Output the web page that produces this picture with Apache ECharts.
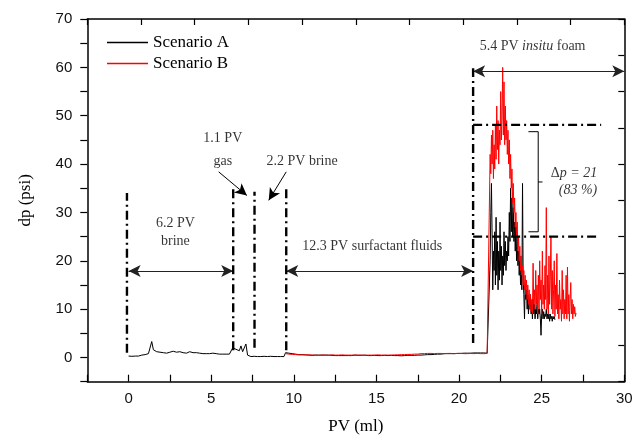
<!DOCTYPE html>
<html><head><meta charset="utf-8">
<script src="https://cdn.jsdelivr.net/npm/echarts@6/dist/echarts.min.js"></script>
<style>html,body{margin:0;padding:0;background:#fff}#c{width:642px;height:435px}</style>
</head><body><div id="c"></div>
<script>
// ---- data ----
const seriesNames = ['Scenario A', 'Scenario B'];
const xTickLabels = ['0', '5', '10', '15', '20', '25', '30'];
const yTickLabels = ['0', '10', '20', '30', '40', '50', '60', '70'];

// Scenario A (black), low-pressure part: PV 0.0 .. 21.8, sampled every 0.1 ml
const lowStartA = 0.0, lowStepA = 0.1;
const dpLowA = [
 0.3,0.3,0.25,0.3,0.3,0.25,0.3,0.35,0.5,0.6,
 0.6,0.7,0.8,1.0,3.3,1.6,2.0,1.2,1.6,1.1,
 1.4,1.0,1.3,0.9,1.2,1.1,1.0,1.3,0.9,1.1,
 1.0,1.2,0.9,1.0,1.1,0.9,1.0,1.2,0.9,1.0,
 0.9,1.0,0.8,0.9,1.0,0.8,0.9,0.8,0.9,0.8,
 0.8,0.9,0.7,0.8,0.8,0.7,0.8,0.7,0.8,0.7,
 0.7,0.7,0.8,2.0,1.8,1.7,1.5,1.4,2.4,1.2,
 1.3,2.8,0.5,0.3,0.2,0.2,0.25,0.2,0.2,0.2,
 0.2,0.2,0.25,0.2,0.2,0.2,0.25,0.2,0.2,0.2,
 0.2,0.2,0.2,0.2,0.2,1.0,0.9,0.9,0.8,0.8,
 0.7,0.7,0.6,0.6,0.55,0.6,0.5,0.55,0.5,0.5,
 0.5,0.45,0.5,0.5,0.4,0.5,0.45,0.5,0.4,0.5,
 0.45,0.5,0.4,0.45,0.5,0.4,0.45,0.4,0.5,0.4,
 0.45,0.4,0.5,0.4,0.45,0.4,0.4,0.5,0.4,0.45,
 0.4,0.45,0.4,0.5,0.4,0.4,0.45,0.4,0.4,0.45,
 0.4,0.4,0.45,0.4,0.4,0.45,0.4,0.4,0.4,0.45,
 0.4,0.4,0.35,0.4,0.4,0.35,0.4,0.4,0.4,0.45,
 0.4,0.45,0.5,0.45,0.5,0.5,0.55,0.5,0.6,0.55,
 0.6,0.6,0.65,0.6,0.7,0.65,0.7,0.7,0.75,0.7,
 0.75,0.8,0.75,0.8,0.85,0.8,0.85,0.8,0.9,0.85,
 0.9,0.85,0.9,0.9,0.85,0.9,0.95,0.9,0.9,0.95,
 0.9,0.95,0.9,0.95,0.9,0.95,0.9,0.9,0.95
];
// Scenario A, foam part: PV 21.84 .., sampled every 0.04 ml
const foamStartA = 21.84, foamStepA = 0.04;
const dpFoamA = [
 0.9,20,30,36,25,14,22,18,26,15,
 29,17,24,14,22,16,28,18,23,15,
 21,17,26,19,24,18,22,20,25,21,
 30,24,35,26,33,25,31,24,28,22,
 27,20,25,19,22,17,21,15,19,14,
 36,16,13,8,15,12,14,10,13,9,
 12,10,13,9,11,8,12,9,11,8,
 10,9,11,8,10,9,10,8,4.6,9,
 10,8,9.5,8,9,8.5,10,8,9,8,
 9,7.5,9,8,8.5,7.5,8.5,8,8.5,7.8
];
// Scenario B (red), low-pressure part: PV 9.5 .. 21.8, every 0.1 ml
const lowStartB = 9.5, lowStepB = 0.1;
const dpLowB = [
 0.8,0.75,0.7,0.7,0.65,
 0.65,0.6,0.6,0.55,0.6,0.55,0.5,0.55,0.5,0.55,
 0.5,0.5,0.55,0.5,0.5,0.45,0.5,0.5,0.55,0.5,
 0.5,0.45,0.5,0.55,0.5,0.5,0.45,0.5,0.5,0.55,
 0.5,0.5,0.45,0.5,0.55,0.5,0.5,0.5,0.45,0.5,
 0.55,0.5,0.5,0.45,0.5,0.5,0.55,0.5,0.45,0.5,
 0.5,0.55,0.5,0.5,0.45,0.5,0.55,0.5,0.5,0.5,
 0.5,0.55,0.6,0.55,0.6,0.6,0.65,0.6,0.65,0.65,
 0.7,0.65,0.7,0.7,0.75,0.7,0.75,0.8,0.75,0.8,
 0.8,0.85,0.8,0.85,0.85,0.8,0.85,0.85,0.8,0.85,
 0.85,0.8,0.85,0.85,0.8,0.85,0.85,0.8,0.85,0.85,
 0.8,0.85,0.8,0.8,0.85,0.8,0.8,0.85,0.8,0.8,
 0.8,0.85,0.8,0.8,0.85,0.8,0.8,0.85,0.8
];
// Scenario B, foam part: PV 21.84 .., every 0.04 ml
const foamStartB = 21.84, foamStepB = 0.04;
const dpFoamB = [
 0.8,42,38,46,40,47,37,44,39,48,
 41,52,43,49,40,47,44,55,45,50,
 60,46,57,44,52,45,49,42,47,40,
 45,37,42,35,39,32,36,30,33,27,
 30,25,28,22,25,20,23,18,21,17,
 19,15,18,14,17,13,16,12,15,11,
 14,10,13,9.5,12,9,19.5,11,14,10,
 18,11,15,9,17,10,20,12,16,9,
 22,11,15,10,19,12,31,10,17,9,
 21,11,16,25,10,18,9,14,20,8.5,
 15,10,21.5,9,13,8,16,10,12,7.5,
 18,9,14,8,12,9,17,8,18.7,9,
 13,7.5,12,15.5,9,12,8,11,9,10.5,
 8.5,9.2
];

// annotation geometry (data coordinates)
const dashDotV = [[-0.1, 1, 34], [6.33, 1.5, 35.3], [7.62, 2, 34.3], [9.54, 1.5, 34.8], [20.85, 3, 59.8]];
const dashDotH = [[48.1, 20.85, 28.6], [25.0, 20.85, 28.4]];
const doubleArrows = [[0, 6.33, 17.9], [9.54, 20.85, 17.9], [20.85, 30, 59.2]];
const singleArrows = [[5.45, 38.4, 7.16, 33.5], [9.54, 38.4, 8.48, 32.5]];
const bracket = { x: 24.79, xl: 24.2, xr: 25.05, yTop: 46.7, yBot: 26.0, yMid: 36.3 };
const notes = [
 { t: '6.2 PV', p: [2.83, 27.7] }, { t: 'brine', p: [2.83, 24.1] },
 { t: '1.1 PV', p: [5.7, 45.3] }, { t: 'gas', p: [5.7, 40.6] },
 { t: '2.2 PV brine', p: [10.5, 40.6] },
 { t: '12.3 PV surfactant fluids', p: [14.75, 23.0] },
 { t: '{n|5.4 PV }{i|insitu}{n| foam}', p: [24.45, 64.3] },
 { t: '{n|Δ}{i|p = 21}', p: [26.95, 38.1] },
 { t: '{i|(83 %)}', p: [27.2, 34.6] }
];

// ---- build ----
function build(start, step, vals) { return vals.map((v, i) => [+(start + i * step).toFixed(3), v]); }
const dataA = build(lowStartA, lowStepA, dpLowA).concat(build(foamStartA, foamStepA, dpFoamA));
const dataB = build(lowStartB, lowStepB, dpLowB).concat(build(foamStartB, foamStepB, dpFoamB));

const serif = '"Liberation Serif", "Times New Roman", serif';
const sans = '"Liberation Sans", Arial, sans-serif';
const ddStyle = { color: '#000', width: 2.4, type: [9, 4, 2, 4] };

const series = [
 { name: seriesNames[0], type: 'line', data: dataA, showSymbol: false, symbol: 'none',
   lineStyle: { color: '#000', width: 1 }, itemStyle: { color: '#000' }, z: 3, animation: false },
 { name: seriesNames[1], type: 'line', data: dataB, showSymbol: false, symbol: 'none',
   lineStyle: { color: '#ff0000', width: 1 }, itemStyle: { color: '#ff0000' }, z: 4, animation: false }
];
dashDotV.forEach(d => series.push({ type: 'line', data: [[d[0], d[1]], [d[0], d[2]]], symbol: 'none',
 lineStyle: ddStyle, silent: true, animation: false, z: 5 }));
dashDotH.forEach(d => series.push({ type: 'line', data: [[d[1], d[0]], [d[2], d[0]]], symbol: 'none',
 lineStyle: ddStyle, silent: true, animation: false, z: 5 }));
series.push({ type: 'line', data: [], silent: true, animation: false,
 markLine: { silent: true, animation: false, symbol: ['arrow', 'arrow'], symbolSize: [9, 12],
   lineStyle: { color: '#222', width: 1, type: 'solid' }, label: { show: false },
   data: doubleArrows.map(a => [{ coord: [a[0], a[2]] }, { coord: [a[1], a[2]] }]) } });
series.push({ type: 'line', data: [], silent: true, animation: false,
 markLine: { silent: true, animation: false, symbol: ['none', 'arrow'], symbolSize: [9, 12],
   lineStyle: { color: '#000', width: 1, type: 'solid' }, label: { show: false },
   data: singleArrows.map(a => [{ coord: [a[0], a[1]] }, { coord: [a[2], a[3]] }]) } });
series.push({ type: 'line', symbol: 'none', silent: true, animation: false, lineStyle: { color: '#000', width: 1 },
 data: [[bracket.xl, bracket.yTop], [bracket.x, bracket.yTop], [bracket.x, bracket.yBot], [bracket.xl, bracket.yBot]] });
series.push({ type: 'line', symbol: 'none', silent: true, animation: false, lineStyle: { color: '#000', width: 1 },
 data: [[bracket.x, bracket.yMid], [bracket.xr, bracket.yMid]] });
series.push({ type: 'scatter', symbolSize: 0, silent: true, animation: false, z: 10,
 data: notes.map(n => ({ value: n.p, label: { show: true, position: 'inside', formatter: n.t,
   fontFamily: serif, fontSize: 14, color: '#000', align: 'center', verticalAlign: 'middle',
   rich: { n: { fontFamily: serif, fontSize: 14, color: '#000' },
           i: { fontFamily: serif, fontSize: 14, color: '#000', fontStyle: 'italic' } } } })) });

const chart = echarts.init(document.getElementById('c'), null, { renderer: 'canvas' });
chart.setOption({
 backgroundColor: '#fff',
 animation: false,
 grid: { left: 87.3, right: 17.7, top: 19, bottom: 53.3, containLabel: false, outerBoundsMode: 'none' },
 legend: { data: seriesNames, orient: 'vertical', left: 107, top: 34, padding: 0, itemWidth: 41, itemHeight: 1.5,
   itemGap: 4, icon: 'rect', textStyle: { fontFamily: serif, fontSize: 17, color: '#000', lineHeight: 17 } },
 xAxis: [
  { type: 'value', min: -2.5, max: 30, interval: 2.5, name: 'PV (ml)', nameLocation: 'middle', nameGap: 36,
    nameTextStyle: { fontFamily: serif, fontSize: 17, color: '#000' },
    axisLine: { show: true, onZero: false, lineStyle: { color: '#000', width: 1.5 } },
    axisTick: { show: true, inside: true, length: 7, lineStyle: { color: '#000', width: 1.2 } },
    axisLabel: { margin: 10, fontFamily: sans, fontSize: 15, color: '#111',
      formatter: v => { const s = String(v); return xTickLabels.includes(s) ? s : ''; } },
    splitLine: { show: false } },
  { type: 'value', position: 'top', min: 0, max: 10, interval: 1,
    axisLine: { show: true, onZero: false, lineStyle: { color: '#000', width: 1.5 } },
    axisTick: { show: true, inside: true, length: 6, lineStyle: { color: '#000', width: 1.2 } },
    axisLabel: { show: false }, splitLine: { show: false } }
 ],
 yAxis: [
  { type: 'value', min: -5, max: 70, interval: 5, name: 'dp (psi)', nameLocation: 'middle', nameGap: 53,
    nameTextStyle: { fontFamily: serif, fontSize: 17, color: '#000' },
    axisLine: { show: true, onZero: false, lineStyle: { color: '#000', width: 1.5 } },
    axisTick: { show: true, inside: false, length: 7, lineStyle: { color: '#000', width: 1.2 } },
    axisLabel: { margin: 15, fontFamily: sans, fontSize: 15, color: '#111',
      formatter: v => { const s = String(v); return yTickLabels.includes(s) ? s : ''; } },
    splitLine: { show: false } },
  { type: 'value', position: 'right', min: 0, max: 10, interval: 1,
    axisLine: { show: true, onZero: false, lineStyle: { color: '#000', width: 1.5 } },
    axisTick: { show: true, inside: true, length: 6, lineStyle: { color: '#000', width: 1.2 } },
    axisLabel: { show: false }, splitLine: { show: false } }
 ],
 series: series
});
</script></body></html>
